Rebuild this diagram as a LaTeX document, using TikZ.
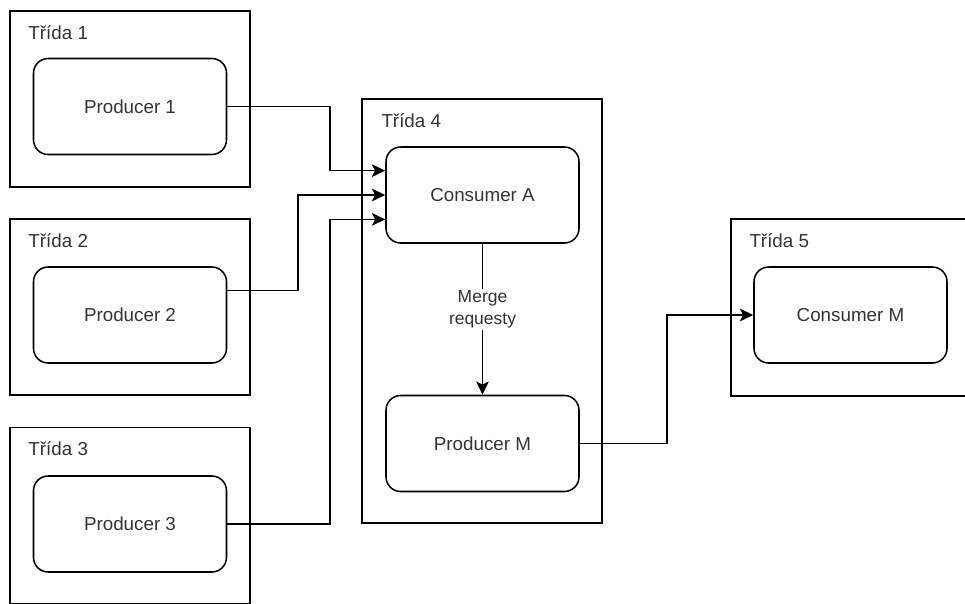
\documentclass[tikz,border=0pt]{standalone}
\usepackage{fontspec}
\setmainfont{Liberation Sans}
\usetikzlibrary{arrows.meta,calc}

\definecolor{ink}{HTML}{333333}

\tikzset{
  classbox/.style={draw=black, line width=1.15pt, minimum width=180pt,
    minimum height=132pt, inner sep=0pt},
  rolebox/.style={draw=black, line width=1.15pt, rounded corners=11pt,
    minimum width=144.75pt, minimum height=72pt, inner sep=0pt,
    text=ink, font=\fontsize{14.1}{17}\selectfont},
  classlabel/.style={anchor=base west, inner sep=0pt, text=ink,
    font=\fontsize{14.1}{17}\selectfont},
  conn/.style={draw=black, line width=1.15pt,
    -{Stealth[length=10pt,width=9.5pt,inset=2.4pt]}},
  edgelabel/.style={fill=white, inner sep=1pt, align=center, text=ink,
    font=\fontsize{13.1}{16.5}\selectfont}
}

\begin{document}
\begin{tikzpicture}[x=0.75pt, y=-0.75pt]
  \clip (0,0) rectangle (965,604);
  \fill[white] (0,0) rectangle (965,604);

  % class containers
  \node[classbox] (t1) at (130,99) {};
  \node[classbox] (t2) at (130,307) {};
  \node[classbox] (t3) at (130,515.5) {};
  \node[classbox, minimum height=318pt] (t4) at (482,311) {};
  \node[classbox, minimum height=132.75pt] (t5) at (851,307.5) {};

  \node[classlabel] (l1) at ($(t1.north west)+(19,29)$) {Třída 1};
  \node[classlabel] (l2) at ($(t2.north west)+(19,29)$) {Třída 2};
  \node[classlabel] (l3) at ($(t3.north west)+(19,29)$) {Třída 3};
  \node[classlabel] (l4) at ($(t4.north west)+(20,29)$) {Třída 4};
  \node[classlabel] (l5) at ($(t5.north west)+(19,29)$) {Třída 5};

  % producers and consumers
  \node[rolebox] (p1) at (130,106.5) {Producer 1};
  \node[rolebox] (p2) at (130,315) {Producer 2};
  \node[rolebox] (p3) at (130,524) {Producer 3};
  \node[rolebox] (ca) at (482.5,195) {Consumer A};
  \node[rolebox] (pm) at (482.5,443.5) {Producer M};
  \node[rolebox] (cm) at (850.5,315) {Consumer M};

  % entry points on Consumer A
  \coordinate (cain1) at ($(ca.north west)!0.25!(ca.south west)$);
  \coordinate (cain3) at ($(ca.north west)!0.75!(ca.south west)$);
  \coordinate (p2out) at ($(p2.north east)!0.25!(p2.south east)$);

  % connectors
  \draw[conn] (p1.east) -- (330,0 |- p1.east) |- (cain1);
  \draw[conn] (p2out) -- (298,0 |- p2out) |- (ca.west);
  \draw[conn] (p3.east) -- (330,0 |- p3.east) |- (cain3);
  \draw[conn] (ca.south) -- node[edgelabel, pos=0.435] (mr) {Merge\\requesty} (pm.north);
  \draw[conn] (pm.east) -- (667,0 |- pm.east) |- (cm.west);
\end{tikzpicture}
\end{document}
